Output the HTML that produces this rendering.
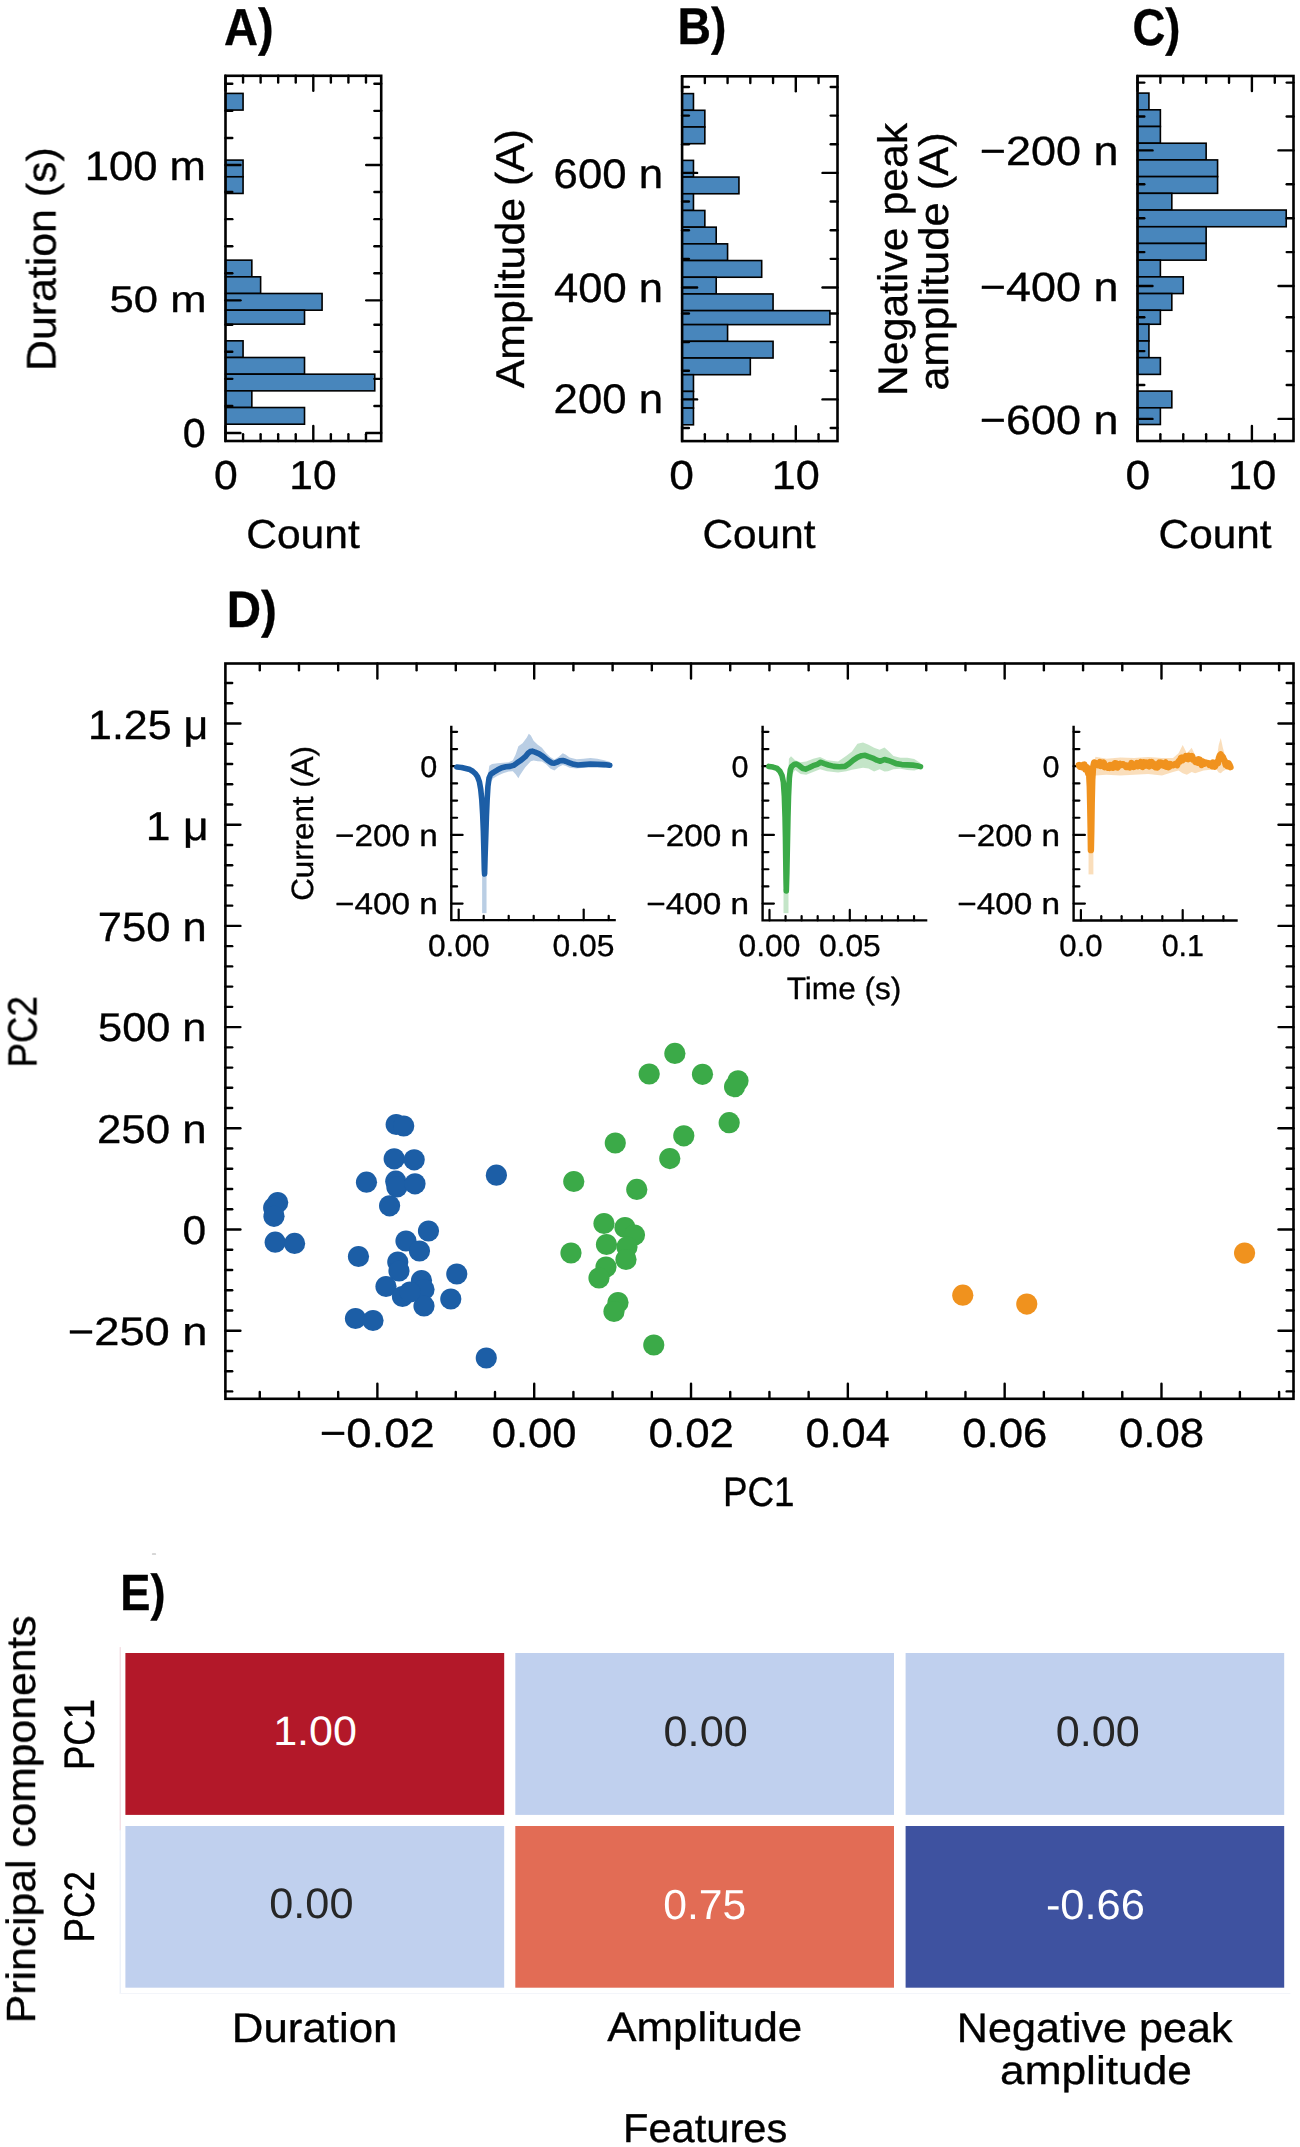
<!DOCTYPE html>
<html><head><meta charset="utf-8"><title>Figure</title>
<style>html,body{margin:0;padding:0;background:#fff;} body{width:1300px;height:2147px;overflow:hidden;font-family:"Liberation Sans", sans-serif;} svg{display:block;} text{-webkit-font-smoothing:antialiased;} .g{opacity:0.999;}</style>
</head><body>
<svg width="1300" height="2147" viewBox="0 0 1300 2147" font-family="&quot;Liberation Sans&quot;, sans-serif" text-rendering="geometricPrecision">
<rect width="1300" height="2147" fill="#fff"/>
<g class="g"><rect x="225.5" y="93.4" width="17.56" height="16.67" fill="#4886bc" stroke="#000" stroke-width="1.6"/>
<rect x="225.5" y="160.1" width="17.56" height="16.67" fill="#4886bc" stroke="#000" stroke-width="1.6"/>
<rect x="225.5" y="176.78" width="17.56" height="16.68" fill="#4886bc" stroke="#000" stroke-width="1.6"/>
<rect x="225.5" y="260.15" width="26.34" height="16.68" fill="#4886bc" stroke="#000" stroke-width="1.6"/>
<rect x="225.5" y="276.83" width="35.12" height="16.67" fill="#4886bc" stroke="#000" stroke-width="1.6"/>
<rect x="225.5" y="293.5" width="96.58" height="16.68" fill="#4886bc" stroke="#000" stroke-width="1.6"/>
<rect x="225.5" y="310.18" width="79.02" height="13.98" fill="#4886bc" stroke="#000" stroke-width="1.6"/>
<rect x="225.5" y="340.82" width="17.56" height="16.68" fill="#4886bc" stroke="#000" stroke-width="1.6"/>
<rect x="225.5" y="357.5" width="79.02" height="16.67" fill="#4886bc" stroke="#000" stroke-width="1.6"/>
<rect x="225.5" y="374.18" width="149.26" height="16.68" fill="#4886bc" stroke="#000" stroke-width="1.6"/>
<rect x="225.5" y="390.85" width="26.34" height="16.67" fill="#4886bc" stroke="#000" stroke-width="1.6"/>
<rect x="225.5" y="407.53" width="79.02" height="16.67" fill="#4886bc" stroke="#000" stroke-width="1.6"/>
<line x1="225.5" y1="433" x2="240.5" y2="433" stroke="#000" stroke-width="2.4" stroke-linecap="round"/>
<line x1="381.2" y1="433" x2="366.2" y2="433" stroke="#000" stroke-width="2.4" stroke-linecap="round"/>
<line x1="225.5" y1="300.35" x2="240.5" y2="300.35" stroke="#000" stroke-width="2.4" stroke-linecap="round"/>
<line x1="381.2" y1="300.35" x2="366.2" y2="300.35" stroke="#000" stroke-width="2.4" stroke-linecap="round"/>
<line x1="225.5" y1="165" x2="240.5" y2="165" stroke="#000" stroke-width="2.4" stroke-linecap="round"/>
<line x1="381.2" y1="165" x2="366.2" y2="165" stroke="#000" stroke-width="2.4" stroke-linecap="round"/>
<line x1="225.5" y1="405.93" x2="232.3" y2="405.93" stroke="#000" stroke-width="2.4" stroke-linecap="round"/>
<line x1="381.2" y1="405.93" x2="374.4" y2="405.93" stroke="#000" stroke-width="2.4" stroke-linecap="round"/>
<line x1="225.5" y1="378.86" x2="232.3" y2="378.86" stroke="#000" stroke-width="2.4" stroke-linecap="round"/>
<line x1="381.2" y1="378.86" x2="374.4" y2="378.86" stroke="#000" stroke-width="2.4" stroke-linecap="round"/>
<line x1="225.5" y1="351.79" x2="232.3" y2="351.79" stroke="#000" stroke-width="2.4" stroke-linecap="round"/>
<line x1="381.2" y1="351.79" x2="374.4" y2="351.79" stroke="#000" stroke-width="2.4" stroke-linecap="round"/>
<line x1="225.5" y1="324.72" x2="232.3" y2="324.72" stroke="#000" stroke-width="2.4" stroke-linecap="round"/>
<line x1="381.2" y1="324.72" x2="374.4" y2="324.72" stroke="#000" stroke-width="2.4" stroke-linecap="round"/>
<line x1="225.5" y1="273.28" x2="232.3" y2="273.28" stroke="#000" stroke-width="2.4" stroke-linecap="round"/>
<line x1="381.2" y1="273.28" x2="374.4" y2="273.28" stroke="#000" stroke-width="2.4" stroke-linecap="round"/>
<line x1="225.5" y1="246.21" x2="232.3" y2="246.21" stroke="#000" stroke-width="2.4" stroke-linecap="round"/>
<line x1="381.2" y1="246.21" x2="374.4" y2="246.21" stroke="#000" stroke-width="2.4" stroke-linecap="round"/>
<line x1="225.5" y1="219.14" x2="232.3" y2="219.14" stroke="#000" stroke-width="2.4" stroke-linecap="round"/>
<line x1="381.2" y1="219.14" x2="374.4" y2="219.14" stroke="#000" stroke-width="2.4" stroke-linecap="round"/>
<line x1="225.5" y1="192.07" x2="232.3" y2="192.07" stroke="#000" stroke-width="2.4" stroke-linecap="round"/>
<line x1="381.2" y1="192.07" x2="374.4" y2="192.07" stroke="#000" stroke-width="2.4" stroke-linecap="round"/>
<line x1="225.5" y1="137.93" x2="232.3" y2="137.93" stroke="#000" stroke-width="2.4" stroke-linecap="round"/>
<line x1="381.2" y1="137.93" x2="374.4" y2="137.93" stroke="#000" stroke-width="2.4" stroke-linecap="round"/>
<line x1="225.5" y1="110.86" x2="232.3" y2="110.86" stroke="#000" stroke-width="2.4" stroke-linecap="round"/>
<line x1="381.2" y1="110.86" x2="374.4" y2="110.86" stroke="#000" stroke-width="2.4" stroke-linecap="round"/>
<line x1="225.5" y1="83.79" x2="232.3" y2="83.79" stroke="#000" stroke-width="2.4" stroke-linecap="round"/>
<line x1="381.2" y1="83.79" x2="374.4" y2="83.79" stroke="#000" stroke-width="2.4" stroke-linecap="round"/>
<line x1="225.5" y1="441" x2="225.5" y2="426" stroke="#000" stroke-width="2.4" stroke-linecap="round"/>
<line x1="225.5" y1="75.8" x2="225.5" y2="90.8" stroke="#000" stroke-width="2.4" stroke-linecap="round"/>
<line x1="313.3" y1="441" x2="313.3" y2="426" stroke="#000" stroke-width="2.4" stroke-linecap="round"/>
<line x1="313.3" y1="75.8" x2="313.3" y2="90.8" stroke="#000" stroke-width="2.4" stroke-linecap="round"/>
<line x1="243.06" y1="441" x2="243.06" y2="434.2" stroke="#000" stroke-width="2.4" stroke-linecap="round"/>
<line x1="243.06" y1="75.8" x2="243.06" y2="82.6" stroke="#000" stroke-width="2.4" stroke-linecap="round"/>
<line x1="260.62" y1="441" x2="260.62" y2="434.2" stroke="#000" stroke-width="2.4" stroke-linecap="round"/>
<line x1="260.62" y1="75.8" x2="260.62" y2="82.6" stroke="#000" stroke-width="2.4" stroke-linecap="round"/>
<line x1="278.18" y1="441" x2="278.18" y2="434.2" stroke="#000" stroke-width="2.4" stroke-linecap="round"/>
<line x1="278.18" y1="75.8" x2="278.18" y2="82.6" stroke="#000" stroke-width="2.4" stroke-linecap="round"/>
<line x1="295.74" y1="441" x2="295.74" y2="434.2" stroke="#000" stroke-width="2.4" stroke-linecap="round"/>
<line x1="295.74" y1="75.8" x2="295.74" y2="82.6" stroke="#000" stroke-width="2.4" stroke-linecap="round"/>
<line x1="330.86" y1="441" x2="330.86" y2="434.2" stroke="#000" stroke-width="2.4" stroke-linecap="round"/>
<line x1="330.86" y1="75.8" x2="330.86" y2="82.6" stroke="#000" stroke-width="2.4" stroke-linecap="round"/>
<line x1="348.42" y1="441" x2="348.42" y2="434.2" stroke="#000" stroke-width="2.4" stroke-linecap="round"/>
<line x1="348.42" y1="75.8" x2="348.42" y2="82.6" stroke="#000" stroke-width="2.4" stroke-linecap="round"/>
<line x1="365.98" y1="441" x2="365.98" y2="434.2" stroke="#000" stroke-width="2.4" stroke-linecap="round"/>
<line x1="365.98" y1="75.8" x2="365.98" y2="82.6" stroke="#000" stroke-width="2.4" stroke-linecap="round"/>
<rect x="225.5" y="75.8" width="155.7" height="365.2" fill="none" stroke="#000" stroke-width="2.6" stroke-linejoin="miter"/>
<rect x="682.1" y="93.6" width="11.37" height="16.69" fill="#4886bc" stroke="#000" stroke-width="1.6"/>
<rect x="682.1" y="110.29" width="22.74" height="16.7" fill="#4886bc" stroke="#000" stroke-width="1.6"/>
<rect x="682.1" y="126.99" width="22.74" height="16.7" fill="#4886bc" stroke="#000" stroke-width="1.6"/>
<rect x="682.1" y="160.38" width="11.37" height="16.69" fill="#4886bc" stroke="#000" stroke-width="1.6"/>
<rect x="682.1" y="177.07" width="56.85" height="16.69" fill="#4886bc" stroke="#000" stroke-width="1.6"/>
<rect x="682.1" y="193.77" width="11.37" height="16.7" fill="#4886bc" stroke="#000" stroke-width="1.6"/>
<rect x="682.1" y="210.47" width="22.74" height="16.69" fill="#4886bc" stroke="#000" stroke-width="1.6"/>
<rect x="682.1" y="227.16" width="34.11" height="16.69" fill="#4886bc" stroke="#000" stroke-width="1.6"/>
<rect x="682.1" y="243.85" width="45.48" height="16.69" fill="#4886bc" stroke="#000" stroke-width="1.6"/>
<rect x="682.1" y="260.55" width="79.59" height="16.7" fill="#4886bc" stroke="#000" stroke-width="1.6"/>
<rect x="682.1" y="277.25" width="34.11" height="16.69" fill="#4886bc" stroke="#000" stroke-width="1.6"/>
<rect x="682.1" y="293.94" width="90.96" height="16.69" fill="#4886bc" stroke="#000" stroke-width="1.6"/>
<rect x="682.1" y="310.63" width="147.81" height="14" fill="#4886bc" stroke="#000" stroke-width="1.6"/>
<rect x="682.1" y="324.63" width="45.48" height="16.69" fill="#4886bc" stroke="#000" stroke-width="1.6"/>
<rect x="682.1" y="341.32" width="90.96" height="16.7" fill="#4886bc" stroke="#000" stroke-width="1.6"/>
<rect x="682.1" y="358.02" width="68.22" height="16.69" fill="#4886bc" stroke="#000" stroke-width="1.6"/>
<rect x="682.1" y="374.71" width="11.37" height="16.7" fill="#4886bc" stroke="#000" stroke-width="1.6"/>
<rect x="682.1" y="391.41" width="11.37" height="16.69" fill="#4886bc" stroke="#000" stroke-width="1.6"/>
<rect x="682.1" y="408.1" width="11.37" height="16.7" fill="#4886bc" stroke="#000" stroke-width="1.6"/>
<line x1="682.1" y1="399.4" x2="697.1" y2="399.4" stroke="#000" stroke-width="2.4" stroke-linecap="round"/>
<line x1="837.5" y1="399.4" x2="822.5" y2="399.4" stroke="#000" stroke-width="2.4" stroke-linecap="round"/>
<line x1="682.1" y1="287.5" x2="697.1" y2="287.5" stroke="#000" stroke-width="2.4" stroke-linecap="round"/>
<line x1="837.5" y1="287.5" x2="822.5" y2="287.5" stroke="#000" stroke-width="2.4" stroke-linecap="round"/>
<line x1="682.1" y1="172.9" x2="697.1" y2="172.9" stroke="#000" stroke-width="2.4" stroke-linecap="round"/>
<line x1="837.5" y1="172.9" x2="822.5" y2="172.9" stroke="#000" stroke-width="2.4" stroke-linecap="round"/>
<line x1="682.1" y1="428.05" x2="688.9" y2="428.05" stroke="#000" stroke-width="2.4" stroke-linecap="round"/>
<line x1="837.5" y1="428.05" x2="830.7" y2="428.05" stroke="#000" stroke-width="2.4" stroke-linecap="round"/>
<line x1="682.1" y1="370.75" x2="688.9" y2="370.75" stroke="#000" stroke-width="2.4" stroke-linecap="round"/>
<line x1="837.5" y1="370.75" x2="830.7" y2="370.75" stroke="#000" stroke-width="2.4" stroke-linecap="round"/>
<line x1="682.1" y1="342.1" x2="688.9" y2="342.1" stroke="#000" stroke-width="2.4" stroke-linecap="round"/>
<line x1="837.5" y1="342.1" x2="830.7" y2="342.1" stroke="#000" stroke-width="2.4" stroke-linecap="round"/>
<line x1="682.1" y1="313.45" x2="688.9" y2="313.45" stroke="#000" stroke-width="2.4" stroke-linecap="round"/>
<line x1="837.5" y1="313.45" x2="830.7" y2="313.45" stroke="#000" stroke-width="2.4" stroke-linecap="round"/>
<line x1="682.1" y1="258.85" x2="688.9" y2="258.85" stroke="#000" stroke-width="2.4" stroke-linecap="round"/>
<line x1="837.5" y1="258.85" x2="830.7" y2="258.85" stroke="#000" stroke-width="2.4" stroke-linecap="round"/>
<line x1="682.1" y1="230.2" x2="688.9" y2="230.2" stroke="#000" stroke-width="2.4" stroke-linecap="round"/>
<line x1="837.5" y1="230.2" x2="830.7" y2="230.2" stroke="#000" stroke-width="2.4" stroke-linecap="round"/>
<line x1="682.1" y1="201.55" x2="688.9" y2="201.55" stroke="#000" stroke-width="2.4" stroke-linecap="round"/>
<line x1="837.5" y1="201.55" x2="830.7" y2="201.55" stroke="#000" stroke-width="2.4" stroke-linecap="round"/>
<line x1="682.1" y1="144.25" x2="688.9" y2="144.25" stroke="#000" stroke-width="2.4" stroke-linecap="round"/>
<line x1="837.5" y1="144.25" x2="830.7" y2="144.25" stroke="#000" stroke-width="2.4" stroke-linecap="round"/>
<line x1="682.1" y1="115.6" x2="688.9" y2="115.6" stroke="#000" stroke-width="2.4" stroke-linecap="round"/>
<line x1="837.5" y1="115.6" x2="830.7" y2="115.6" stroke="#000" stroke-width="2.4" stroke-linecap="round"/>
<line x1="682.1" y1="86.95" x2="688.9" y2="86.95" stroke="#000" stroke-width="2.4" stroke-linecap="round"/>
<line x1="837.5" y1="86.95" x2="830.7" y2="86.95" stroke="#000" stroke-width="2.4" stroke-linecap="round"/>
<line x1="682.1" y1="441.1" x2="682.1" y2="426.1" stroke="#000" stroke-width="2.4" stroke-linecap="round"/>
<line x1="682.1" y1="76.3" x2="682.1" y2="91.3" stroke="#000" stroke-width="2.4" stroke-linecap="round"/>
<line x1="795.8" y1="441.1" x2="795.8" y2="426.1" stroke="#000" stroke-width="2.4" stroke-linecap="round"/>
<line x1="795.8" y1="76.3" x2="795.8" y2="91.3" stroke="#000" stroke-width="2.4" stroke-linecap="round"/>
<line x1="704.84" y1="441.1" x2="704.84" y2="434.3" stroke="#000" stroke-width="2.4" stroke-linecap="round"/>
<line x1="704.84" y1="76.3" x2="704.84" y2="83.1" stroke="#000" stroke-width="2.4" stroke-linecap="round"/>
<line x1="727.58" y1="441.1" x2="727.58" y2="434.3" stroke="#000" stroke-width="2.4" stroke-linecap="round"/>
<line x1="727.58" y1="76.3" x2="727.58" y2="83.1" stroke="#000" stroke-width="2.4" stroke-linecap="round"/>
<line x1="750.32" y1="441.1" x2="750.32" y2="434.3" stroke="#000" stroke-width="2.4" stroke-linecap="round"/>
<line x1="750.32" y1="76.3" x2="750.32" y2="83.1" stroke="#000" stroke-width="2.4" stroke-linecap="round"/>
<line x1="773.06" y1="441.1" x2="773.06" y2="434.3" stroke="#000" stroke-width="2.4" stroke-linecap="round"/>
<line x1="773.06" y1="76.3" x2="773.06" y2="83.1" stroke="#000" stroke-width="2.4" stroke-linecap="round"/>
<line x1="818.54" y1="441.1" x2="818.54" y2="434.3" stroke="#000" stroke-width="2.4" stroke-linecap="round"/>
<line x1="818.54" y1="76.3" x2="818.54" y2="83.1" stroke="#000" stroke-width="2.4" stroke-linecap="round"/>
<rect x="682.1" y="76.3" width="155.4" height="364.8" fill="none" stroke="#000" stroke-width="2.6" stroke-linejoin="miter"/>
<rect x="1137.5" y="93.1" width="11.44" height="16.7" fill="#4886bc" stroke="#000" stroke-width="1.6"/>
<rect x="1137.5" y="109.8" width="22.88" height="16.7" fill="#4886bc" stroke="#000" stroke-width="1.6"/>
<rect x="1137.5" y="126.51" width="22.88" height="16.71" fill="#4886bc" stroke="#000" stroke-width="1.6"/>
<rect x="1137.5" y="143.22" width="68.64" height="16.71" fill="#4886bc" stroke="#000" stroke-width="1.6"/>
<rect x="1137.5" y="159.92" width="80.08" height="16.7" fill="#4886bc" stroke="#000" stroke-width="1.6"/>
<rect x="1137.5" y="176.62" width="80.08" height="16.71" fill="#4886bc" stroke="#000" stroke-width="1.6"/>
<rect x="1137.5" y="193.33" width="34.32" height="16.71" fill="#4886bc" stroke="#000" stroke-width="1.6"/>
<rect x="1137.5" y="210.04" width="148.72" height="16.7" fill="#4886bc" stroke="#000" stroke-width="1.6"/>
<rect x="1137.5" y="226.74" width="68.64" height="16.71" fill="#4886bc" stroke="#000" stroke-width="1.6"/>
<rect x="1137.5" y="243.45" width="68.64" height="16.7" fill="#4886bc" stroke="#000" stroke-width="1.6"/>
<rect x="1137.5" y="260.15" width="22.88" height="16.71" fill="#4886bc" stroke="#000" stroke-width="1.6"/>
<rect x="1137.5" y="276.86" width="45.76" height="16.71" fill="#4886bc" stroke="#000" stroke-width="1.6"/>
<rect x="1137.5" y="293.56" width="34.32" height="16.7" fill="#4886bc" stroke="#000" stroke-width="1.6"/>
<rect x="1137.5" y="310.26" width="22.88" height="14.01" fill="#4886bc" stroke="#000" stroke-width="1.6"/>
<rect x="1137.5" y="324.27" width="11.44" height="16.7" fill="#4886bc" stroke="#000" stroke-width="1.6"/>
<rect x="1137.5" y="340.98" width="11.44" height="16.7" fill="#4886bc" stroke="#000" stroke-width="1.6"/>
<rect x="1137.5" y="357.68" width="22.88" height="16.71" fill="#4886bc" stroke="#000" stroke-width="1.6"/>
<rect x="1137.5" y="391.09" width="34.32" height="16.7" fill="#4886bc" stroke="#000" stroke-width="1.6"/>
<rect x="1137.5" y="407.8" width="22.88" height="16.71" fill="#4886bc" stroke="#000" stroke-width="1.6"/>
<line x1="1137.5" y1="150.4" x2="1152.5" y2="150.4" stroke="#000" stroke-width="2.4" stroke-linecap="round"/>
<line x1="1293.5" y1="150.4" x2="1278.5" y2="150.4" stroke="#000" stroke-width="2.4" stroke-linecap="round"/>
<line x1="1137.5" y1="286" x2="1152.5" y2="286" stroke="#000" stroke-width="2.4" stroke-linecap="round"/>
<line x1="1293.5" y1="286" x2="1278.5" y2="286" stroke="#000" stroke-width="2.4" stroke-linecap="round"/>
<line x1="1137.5" y1="418.9" x2="1152.5" y2="418.9" stroke="#000" stroke-width="2.4" stroke-linecap="round"/>
<line x1="1293.5" y1="418.9" x2="1278.5" y2="418.9" stroke="#000" stroke-width="2.4" stroke-linecap="round"/>
<line x1="1137.5" y1="385" x2="1144.3" y2="385" stroke="#000" stroke-width="2.4" stroke-linecap="round"/>
<line x1="1293.5" y1="385" x2="1286.7" y2="385" stroke="#000" stroke-width="2.4" stroke-linecap="round"/>
<line x1="1137.5" y1="351.1" x2="1144.3" y2="351.1" stroke="#000" stroke-width="2.4" stroke-linecap="round"/>
<line x1="1293.5" y1="351.1" x2="1286.7" y2="351.1" stroke="#000" stroke-width="2.4" stroke-linecap="round"/>
<line x1="1137.5" y1="317.2" x2="1144.3" y2="317.2" stroke="#000" stroke-width="2.4" stroke-linecap="round"/>
<line x1="1293.5" y1="317.2" x2="1286.7" y2="317.2" stroke="#000" stroke-width="2.4" stroke-linecap="round"/>
<line x1="1137.5" y1="252.1" x2="1144.3" y2="252.1" stroke="#000" stroke-width="2.4" stroke-linecap="round"/>
<line x1="1293.5" y1="252.1" x2="1286.7" y2="252.1" stroke="#000" stroke-width="2.4" stroke-linecap="round"/>
<line x1="1137.5" y1="218.2" x2="1144.3" y2="218.2" stroke="#000" stroke-width="2.4" stroke-linecap="round"/>
<line x1="1293.5" y1="218.2" x2="1286.7" y2="218.2" stroke="#000" stroke-width="2.4" stroke-linecap="round"/>
<line x1="1137.5" y1="184.3" x2="1144.3" y2="184.3" stroke="#000" stroke-width="2.4" stroke-linecap="round"/>
<line x1="1293.5" y1="184.3" x2="1286.7" y2="184.3" stroke="#000" stroke-width="2.4" stroke-linecap="round"/>
<line x1="1137.5" y1="116.5" x2="1144.3" y2="116.5" stroke="#000" stroke-width="2.4" stroke-linecap="round"/>
<line x1="1293.5" y1="116.5" x2="1286.7" y2="116.5" stroke="#000" stroke-width="2.4" stroke-linecap="round"/>
<line x1="1137.5" y1="82.6" x2="1144.3" y2="82.6" stroke="#000" stroke-width="2.4" stroke-linecap="round"/>
<line x1="1293.5" y1="82.6" x2="1286.7" y2="82.6" stroke="#000" stroke-width="2.4" stroke-linecap="round"/>
<line x1="1137.5" y1="441" x2="1137.5" y2="426" stroke="#000" stroke-width="2.4" stroke-linecap="round"/>
<line x1="1137.5" y1="76" x2="1137.5" y2="91" stroke="#000" stroke-width="2.4" stroke-linecap="round"/>
<line x1="1251.9" y1="441" x2="1251.9" y2="426" stroke="#000" stroke-width="2.4" stroke-linecap="round"/>
<line x1="1251.9" y1="76" x2="1251.9" y2="91" stroke="#000" stroke-width="2.4" stroke-linecap="round"/>
<line x1="1160.38" y1="441" x2="1160.38" y2="434.2" stroke="#000" stroke-width="2.4" stroke-linecap="round"/>
<line x1="1160.38" y1="76" x2="1160.38" y2="82.8" stroke="#000" stroke-width="2.4" stroke-linecap="round"/>
<line x1="1183.26" y1="441" x2="1183.26" y2="434.2" stroke="#000" stroke-width="2.4" stroke-linecap="round"/>
<line x1="1183.26" y1="76" x2="1183.26" y2="82.8" stroke="#000" stroke-width="2.4" stroke-linecap="round"/>
<line x1="1206.14" y1="441" x2="1206.14" y2="434.2" stroke="#000" stroke-width="2.4" stroke-linecap="round"/>
<line x1="1206.14" y1="76" x2="1206.14" y2="82.8" stroke="#000" stroke-width="2.4" stroke-linecap="round"/>
<line x1="1229.02" y1="441" x2="1229.02" y2="434.2" stroke="#000" stroke-width="2.4" stroke-linecap="round"/>
<line x1="1229.02" y1="76" x2="1229.02" y2="82.8" stroke="#000" stroke-width="2.4" stroke-linecap="round"/>
<line x1="1274.78" y1="441" x2="1274.78" y2="434.2" stroke="#000" stroke-width="2.4" stroke-linecap="round"/>
<line x1="1274.78" y1="76" x2="1274.78" y2="82.8" stroke="#000" stroke-width="2.4" stroke-linecap="round"/>
<rect x="1137.5" y="76" width="156" height="365" fill="none" stroke="#000" stroke-width="2.6" stroke-linejoin="miter"/>
<text transform="translate(223.98,45) scale(0.9040,1)" font-size="52.03" font-weight="bold" fill="#000" stroke="#000" stroke-width="0.35" stroke-linejoin="round">A)</text>
<text transform="translate(677.44,44.4) scale(0.8989,1)" font-size="51.60" font-weight="bold" fill="#000" stroke="#000" stroke-width="0.35" stroke-linejoin="round">B)</text>
<text transform="translate(1132.49,44.98) scale(0.8809,1)" font-size="51.69" font-weight="bold" fill="#000" stroke="#000" stroke-width="0.35" stroke-linejoin="round">C)</text>
<text transform="translate(84.69,179.59) scale(1.0643,1)" font-size="40.96" fill="#000" stroke="#000" stroke-width="0.35" stroke-linejoin="round">100 m</text>
<text transform="translate(109.56,311.83) scale(1.1776,1)" font-size="37.01" fill="#000" stroke="#000" stroke-width="0.35" stroke-linejoin="round">50 m</text>
<text transform="translate(182.85,447.1) scale(1.0202,1)" font-size="40.40" fill="#000" stroke="#000" stroke-width="0.35" stroke-linejoin="round">0</text>
<text transform="translate(55.5,370.91) rotate(-90) scale(1.0445,1)" font-size="40.99" fill="#000" stroke="#000" stroke-width="0.35" stroke-linejoin="round">Duration (s)</text>
<text transform="translate(553.61,187.59) scale(1.0574,1)" font-size="41.38" fill="#000" stroke="#000" stroke-width="0.35" stroke-linejoin="round">600 n</text>
<text transform="translate(554.04,302.29) scale(1.0568,1)" font-size="41.24" fill="#000" stroke="#000" stroke-width="0.35" stroke-linejoin="round">400 n</text>
<text transform="translate(553.61,413.39) scale(1.0574,1)" font-size="41.38" fill="#000" stroke="#000" stroke-width="0.35" stroke-linejoin="round">200 n</text>
<text transform="translate(524.3,388.29) rotate(-90) scale(1.0632,1)" font-size="40.26" fill="#000" stroke="#000" stroke-width="0.35" stroke-linejoin="round">Amplitude (A)</text>
<text transform="translate(979.75,164.59) scale(1.0975,1)" font-size="40.96" fill="#000" stroke="#000" stroke-width="0.35" stroke-linejoin="round">−200 n</text>
<text transform="translate(979.75,300.59) scale(1.0975,1)" font-size="40.96" fill="#000" stroke="#000" stroke-width="0.35" stroke-linejoin="round">−400 n</text>
<text transform="translate(979.75,433.59) scale(1.0975,1)" font-size="40.96" fill="#000" stroke="#000" stroke-width="0.35" stroke-linejoin="round">−600 n</text>
<text transform="translate(906.5,395.9) rotate(-90) scale(1.0347,1)" font-size="41.28" fill="#000" stroke="#000" stroke-width="0.35" stroke-linejoin="round">Negative peak</text>
<text transform="translate(948.4,390.83) rotate(-90) scale(1.0533,1)" font-size="41.28" fill="#000" stroke="#000" stroke-width="0.35" stroke-linejoin="round">amplitude (A)</text>
<text transform="translate(213.89,489) scale(1.0565,1)" font-size="40.40" fill="#000" stroke="#000" stroke-width="0.35" stroke-linejoin="round">0</text>
<text transform="translate(289.37,489) scale(1.0517,1)" font-size="40.40" fill="#000" stroke="#000" stroke-width="0.35" stroke-linejoin="round">10</text>
<text transform="translate(246.17,547.79) scale(1.0501,1)" font-size="40.54" fill="#000" stroke="#000" stroke-width="0.35" stroke-linejoin="round">Count</text>
<text transform="translate(669.33,489) scale(1.0979,1)" font-size="40.40" fill="#000" stroke="#000" stroke-width="0.35" stroke-linejoin="round">0</text>
<text transform="translate(771.82,489) scale(1.0691,1)" font-size="40.40" fill="#000" stroke="#000" stroke-width="0.35" stroke-linejoin="round">10</text>
<text transform="translate(702.48,547.79) scale(1.0444,1)" font-size="40.54" fill="#000" stroke="#000" stroke-width="0.35" stroke-linejoin="round">Count</text>
<text transform="translate(1125.53,489) scale(1.0979,1)" font-size="40.40" fill="#000" stroke="#000" stroke-width="0.35" stroke-linejoin="round">0</text>
<text transform="translate(1228.12,489) scale(1.0691,1)" font-size="40.40" fill="#000" stroke="#000" stroke-width="0.35" stroke-linejoin="round">10</text>
<text transform="translate(1158.58,547.79) scale(1.0444,1)" font-size="40.54" fill="#000" stroke="#000" stroke-width="0.35" stroke-linejoin="round">Count</text>
<g fill="#1c5ea6"><circle cx="396.2" cy="1124.5" r="10.6"/><circle cx="403.7" cy="1126" r="10.6"/><circle cx="394.2" cy="1158.8" r="10.6"/><circle cx="414.2" cy="1159.8" r="10.6"/><circle cx="366.5" cy="1182.2" r="10.6"/><circle cx="395.8" cy="1181.2" r="10.6"/><circle cx="396.9" cy="1186.9" r="10.6"/><circle cx="415" cy="1183.8" r="10.6"/><circle cx="389.6" cy="1205.8" r="10.6"/><circle cx="277.7" cy="1202.5" r="10.6"/><circle cx="273.7" cy="1207.7" r="10.6"/><circle cx="274" cy="1216.3" r="10.6"/><circle cx="275.2" cy="1242.2" r="10.6"/><circle cx="294.6" cy="1243.4" r="10.6"/><circle cx="496.4" cy="1175.2" r="10.6"/><circle cx="428.5" cy="1231" r="10.6"/><circle cx="406" cy="1241" r="10.6"/><circle cx="419.5" cy="1251" r="10.6"/><circle cx="358.5" cy="1256.5" r="10.6"/><circle cx="397.8" cy="1262" r="10.6"/><circle cx="399" cy="1271" r="10.6"/><circle cx="386" cy="1286.5" r="10.6"/><circle cx="421.5" cy="1280.5" r="10.6"/><circle cx="424" cy="1289.5" r="10.6"/><circle cx="402.5" cy="1296.5" r="10.6"/><circle cx="424" cy="1306" r="10.6"/><circle cx="456.8" cy="1274" r="10.6"/><circle cx="450.8" cy="1299" r="10.6"/><circle cx="355.5" cy="1318.5" r="10.6"/><circle cx="373" cy="1320.5" r="10.6"/><circle cx="410" cy="1292" r="10.6"/><circle cx="486.3" cy="1358" r="10.6"/></g>
<g fill="#3baa48"><circle cx="674.9" cy="1053.4" r="10.6"/><circle cx="649.2" cy="1074" r="10.6"/><circle cx="702.5" cy="1074.3" r="10.6"/><circle cx="738" cy="1080.8" r="10.6"/><circle cx="734.6" cy="1086.7" r="10.6"/><circle cx="729.2" cy="1122.7" r="10.6"/><circle cx="683.8" cy="1135.8" r="10.6"/><circle cx="615.3" cy="1143" r="10.6"/><circle cx="669.8" cy="1158.6" r="10.6"/><circle cx="573.8" cy="1181.5" r="10.6"/><circle cx="636.8" cy="1189.4" r="10.6"/><circle cx="604" cy="1223.5" r="10.6"/><circle cx="625" cy="1227.5" r="10.6"/><circle cx="634.5" cy="1235" r="10.6"/><circle cx="606.5" cy="1244.5" r="10.6"/><circle cx="627" cy="1247" r="10.6"/><circle cx="626" cy="1259.5" r="10.6"/><circle cx="571" cy="1253" r="10.6"/><circle cx="606" cy="1267" r="10.6"/><circle cx="599" cy="1278" r="10.6"/><circle cx="618" cy="1302.5" r="10.6"/><circle cx="614" cy="1311.5" r="10.6"/><circle cx="653.8" cy="1345" r="10.6"/></g>
<g fill="#f0921e"><circle cx="962.8" cy="1295.2" r="10.6"/><circle cx="1026.8" cy="1304.1" r="10.6"/><circle cx="1244.6" cy="1253.1" r="10.6"/></g>
<line x1="377.38" y1="1398.8" x2="377.38" y2="1383.8" stroke="#000" stroke-width="2.4" stroke-linecap="round"/>
<line x1="377.38" y1="663.5" x2="377.38" y2="678.5" stroke="#000" stroke-width="2.4" stroke-linecap="round"/>
<line x1="534.2" y1="1398.8" x2="534.2" y2="1383.8" stroke="#000" stroke-width="2.4" stroke-linecap="round"/>
<line x1="534.2" y1="663.5" x2="534.2" y2="678.5" stroke="#000" stroke-width="2.4" stroke-linecap="round"/>
<line x1="691.02" y1="1398.8" x2="691.02" y2="1383.8" stroke="#000" stroke-width="2.4" stroke-linecap="round"/>
<line x1="691.02" y1="663.5" x2="691.02" y2="678.5" stroke="#000" stroke-width="2.4" stroke-linecap="round"/>
<line x1="847.84" y1="1398.8" x2="847.84" y2="1383.8" stroke="#000" stroke-width="2.4" stroke-linecap="round"/>
<line x1="847.84" y1="663.5" x2="847.84" y2="678.5" stroke="#000" stroke-width="2.4" stroke-linecap="round"/>
<line x1="1004.66" y1="1398.8" x2="1004.66" y2="1383.8" stroke="#000" stroke-width="2.4" stroke-linecap="round"/>
<line x1="1004.66" y1="663.5" x2="1004.66" y2="678.5" stroke="#000" stroke-width="2.4" stroke-linecap="round"/>
<line x1="1161.48" y1="1398.8" x2="1161.48" y2="1383.8" stroke="#000" stroke-width="2.4" stroke-linecap="round"/>
<line x1="1161.48" y1="663.5" x2="1161.48" y2="678.5" stroke="#000" stroke-width="2.4" stroke-linecap="round"/>
<line x1="259.77" y1="1398.8" x2="259.77" y2="1392" stroke="#000" stroke-width="2.4" stroke-linecap="round"/>
<line x1="259.77" y1="663.5" x2="259.77" y2="670.3" stroke="#000" stroke-width="2.4" stroke-linecap="round"/>
<line x1="298.97" y1="1398.8" x2="298.97" y2="1392" stroke="#000" stroke-width="2.4" stroke-linecap="round"/>
<line x1="298.97" y1="663.5" x2="298.97" y2="670.3" stroke="#000" stroke-width="2.4" stroke-linecap="round"/>
<line x1="338.18" y1="1398.8" x2="338.18" y2="1392" stroke="#000" stroke-width="2.4" stroke-linecap="round"/>
<line x1="338.18" y1="663.5" x2="338.18" y2="670.3" stroke="#000" stroke-width="2.4" stroke-linecap="round"/>
<line x1="416.59" y1="1398.8" x2="416.59" y2="1392" stroke="#000" stroke-width="2.4" stroke-linecap="round"/>
<line x1="416.59" y1="663.5" x2="416.59" y2="670.3" stroke="#000" stroke-width="2.4" stroke-linecap="round"/>
<line x1="455.79" y1="1398.8" x2="455.79" y2="1392" stroke="#000" stroke-width="2.4" stroke-linecap="round"/>
<line x1="455.79" y1="663.5" x2="455.79" y2="670.3" stroke="#000" stroke-width="2.4" stroke-linecap="round"/>
<line x1="495" y1="1398.8" x2="495" y2="1392" stroke="#000" stroke-width="2.4" stroke-linecap="round"/>
<line x1="495" y1="663.5" x2="495" y2="670.3" stroke="#000" stroke-width="2.4" stroke-linecap="round"/>
<line x1="573.41" y1="1398.8" x2="573.41" y2="1392" stroke="#000" stroke-width="2.4" stroke-linecap="round"/>
<line x1="573.41" y1="663.5" x2="573.41" y2="670.3" stroke="#000" stroke-width="2.4" stroke-linecap="round"/>
<line x1="612.61" y1="1398.8" x2="612.61" y2="1392" stroke="#000" stroke-width="2.4" stroke-linecap="round"/>
<line x1="612.61" y1="663.5" x2="612.61" y2="670.3" stroke="#000" stroke-width="2.4" stroke-linecap="round"/>
<line x1="651.82" y1="1398.8" x2="651.82" y2="1392" stroke="#000" stroke-width="2.4" stroke-linecap="round"/>
<line x1="651.82" y1="663.5" x2="651.82" y2="670.3" stroke="#000" stroke-width="2.4" stroke-linecap="round"/>
<line x1="730.23" y1="1398.8" x2="730.23" y2="1392" stroke="#000" stroke-width="2.4" stroke-linecap="round"/>
<line x1="730.23" y1="663.5" x2="730.23" y2="670.3" stroke="#000" stroke-width="2.4" stroke-linecap="round"/>
<line x1="769.43" y1="1398.8" x2="769.43" y2="1392" stroke="#000" stroke-width="2.4" stroke-linecap="round"/>
<line x1="769.43" y1="663.5" x2="769.43" y2="670.3" stroke="#000" stroke-width="2.4" stroke-linecap="round"/>
<line x1="808.63" y1="1398.8" x2="808.63" y2="1392" stroke="#000" stroke-width="2.4" stroke-linecap="round"/>
<line x1="808.63" y1="663.5" x2="808.63" y2="670.3" stroke="#000" stroke-width="2.4" stroke-linecap="round"/>
<line x1="887.05" y1="1398.8" x2="887.05" y2="1392" stroke="#000" stroke-width="2.4" stroke-linecap="round"/>
<line x1="887.05" y1="663.5" x2="887.05" y2="670.3" stroke="#000" stroke-width="2.4" stroke-linecap="round"/>
<line x1="926.25" y1="1398.8" x2="926.25" y2="1392" stroke="#000" stroke-width="2.4" stroke-linecap="round"/>
<line x1="926.25" y1="663.5" x2="926.25" y2="670.3" stroke="#000" stroke-width="2.4" stroke-linecap="round"/>
<line x1="965.46" y1="1398.8" x2="965.46" y2="1392" stroke="#000" stroke-width="2.4" stroke-linecap="round"/>
<line x1="965.46" y1="663.5" x2="965.46" y2="670.3" stroke="#000" stroke-width="2.4" stroke-linecap="round"/>
<line x1="1043.87" y1="1398.8" x2="1043.87" y2="1392" stroke="#000" stroke-width="2.4" stroke-linecap="round"/>
<line x1="1043.87" y1="663.5" x2="1043.87" y2="670.3" stroke="#000" stroke-width="2.4" stroke-linecap="round"/>
<line x1="1083.07" y1="1398.8" x2="1083.07" y2="1392" stroke="#000" stroke-width="2.4" stroke-linecap="round"/>
<line x1="1083.07" y1="663.5" x2="1083.07" y2="670.3" stroke="#000" stroke-width="2.4" stroke-linecap="round"/>
<line x1="1122.28" y1="1398.8" x2="1122.28" y2="1392" stroke="#000" stroke-width="2.4" stroke-linecap="round"/>
<line x1="1122.28" y1="663.5" x2="1122.28" y2="670.3" stroke="#000" stroke-width="2.4" stroke-linecap="round"/>
<line x1="1200.68" y1="1398.8" x2="1200.68" y2="1392" stroke="#000" stroke-width="2.4" stroke-linecap="round"/>
<line x1="1200.68" y1="663.5" x2="1200.68" y2="670.3" stroke="#000" stroke-width="2.4" stroke-linecap="round"/>
<line x1="1239.89" y1="1398.8" x2="1239.89" y2="1392" stroke="#000" stroke-width="2.4" stroke-linecap="round"/>
<line x1="1239.89" y1="663.5" x2="1239.89" y2="670.3" stroke="#000" stroke-width="2.4" stroke-linecap="round"/>
<line x1="1279.1" y1="1398.8" x2="1279.1" y2="1392" stroke="#000" stroke-width="2.4" stroke-linecap="round"/>
<line x1="1279.1" y1="663.5" x2="1279.1" y2="670.3" stroke="#000" stroke-width="2.4" stroke-linecap="round"/>
<line x1="225.4" y1="1330.7" x2="240.4" y2="1330.7" stroke="#000" stroke-width="2.4" stroke-linecap="round"/>
<line x1="1293.5" y1="1330.7" x2="1278.5" y2="1330.7" stroke="#000" stroke-width="2.4" stroke-linecap="round"/>
<line x1="225.4" y1="1229.5" x2="240.4" y2="1229.5" stroke="#000" stroke-width="2.4" stroke-linecap="round"/>
<line x1="1293.5" y1="1229.5" x2="1278.5" y2="1229.5" stroke="#000" stroke-width="2.4" stroke-linecap="round"/>
<line x1="225.4" y1="1128.3" x2="240.4" y2="1128.3" stroke="#000" stroke-width="2.4" stroke-linecap="round"/>
<line x1="1293.5" y1="1128.3" x2="1278.5" y2="1128.3" stroke="#000" stroke-width="2.4" stroke-linecap="round"/>
<line x1="225.4" y1="1027.1" x2="240.4" y2="1027.1" stroke="#000" stroke-width="2.4" stroke-linecap="round"/>
<line x1="1293.5" y1="1027.1" x2="1278.5" y2="1027.1" stroke="#000" stroke-width="2.4" stroke-linecap="round"/>
<line x1="225.4" y1="925.9" x2="240.4" y2="925.9" stroke="#000" stroke-width="2.4" stroke-linecap="round"/>
<line x1="1293.5" y1="925.9" x2="1278.5" y2="925.9" stroke="#000" stroke-width="2.4" stroke-linecap="round"/>
<line x1="225.4" y1="824.7" x2="240.4" y2="824.7" stroke="#000" stroke-width="2.4" stroke-linecap="round"/>
<line x1="1293.5" y1="824.7" x2="1278.5" y2="824.7" stroke="#000" stroke-width="2.4" stroke-linecap="round"/>
<line x1="225.4" y1="723.5" x2="240.4" y2="723.5" stroke="#000" stroke-width="2.4" stroke-linecap="round"/>
<line x1="1293.5" y1="723.5" x2="1278.5" y2="723.5" stroke="#000" stroke-width="2.4" stroke-linecap="round"/>
<line x1="225.4" y1="1391.42" x2="232.2" y2="1391.42" stroke="#000" stroke-width="2.4" stroke-linecap="round"/>
<line x1="1293.5" y1="1391.42" x2="1286.7" y2="1391.42" stroke="#000" stroke-width="2.4" stroke-linecap="round"/>
<line x1="225.4" y1="1371.18" x2="232.2" y2="1371.18" stroke="#000" stroke-width="2.4" stroke-linecap="round"/>
<line x1="1293.5" y1="1371.18" x2="1286.7" y2="1371.18" stroke="#000" stroke-width="2.4" stroke-linecap="round"/>
<line x1="225.4" y1="1350.94" x2="232.2" y2="1350.94" stroke="#000" stroke-width="2.4" stroke-linecap="round"/>
<line x1="1293.5" y1="1350.94" x2="1286.7" y2="1350.94" stroke="#000" stroke-width="2.4" stroke-linecap="round"/>
<line x1="225.4" y1="1310.46" x2="232.2" y2="1310.46" stroke="#000" stroke-width="2.4" stroke-linecap="round"/>
<line x1="1293.5" y1="1310.46" x2="1286.7" y2="1310.46" stroke="#000" stroke-width="2.4" stroke-linecap="round"/>
<line x1="225.4" y1="1290.22" x2="232.2" y2="1290.22" stroke="#000" stroke-width="2.4" stroke-linecap="round"/>
<line x1="1293.5" y1="1290.22" x2="1286.7" y2="1290.22" stroke="#000" stroke-width="2.4" stroke-linecap="round"/>
<line x1="225.4" y1="1269.98" x2="232.2" y2="1269.98" stroke="#000" stroke-width="2.4" stroke-linecap="round"/>
<line x1="1293.5" y1="1269.98" x2="1286.7" y2="1269.98" stroke="#000" stroke-width="2.4" stroke-linecap="round"/>
<line x1="225.4" y1="1249.74" x2="232.2" y2="1249.74" stroke="#000" stroke-width="2.4" stroke-linecap="round"/>
<line x1="1293.5" y1="1249.74" x2="1286.7" y2="1249.74" stroke="#000" stroke-width="2.4" stroke-linecap="round"/>
<line x1="225.4" y1="1209.26" x2="232.2" y2="1209.26" stroke="#000" stroke-width="2.4" stroke-linecap="round"/>
<line x1="1293.5" y1="1209.26" x2="1286.7" y2="1209.26" stroke="#000" stroke-width="2.4" stroke-linecap="round"/>
<line x1="225.4" y1="1189.02" x2="232.2" y2="1189.02" stroke="#000" stroke-width="2.4" stroke-linecap="round"/>
<line x1="1293.5" y1="1189.02" x2="1286.7" y2="1189.02" stroke="#000" stroke-width="2.4" stroke-linecap="round"/>
<line x1="225.4" y1="1168.78" x2="232.2" y2="1168.78" stroke="#000" stroke-width="2.4" stroke-linecap="round"/>
<line x1="1293.5" y1="1168.78" x2="1286.7" y2="1168.78" stroke="#000" stroke-width="2.4" stroke-linecap="round"/>
<line x1="225.4" y1="1148.54" x2="232.2" y2="1148.54" stroke="#000" stroke-width="2.4" stroke-linecap="round"/>
<line x1="1293.5" y1="1148.54" x2="1286.7" y2="1148.54" stroke="#000" stroke-width="2.4" stroke-linecap="round"/>
<line x1="225.4" y1="1108.06" x2="232.2" y2="1108.06" stroke="#000" stroke-width="2.4" stroke-linecap="round"/>
<line x1="1293.5" y1="1108.06" x2="1286.7" y2="1108.06" stroke="#000" stroke-width="2.4" stroke-linecap="round"/>
<line x1="225.4" y1="1087.82" x2="232.2" y2="1087.82" stroke="#000" stroke-width="2.4" stroke-linecap="round"/>
<line x1="1293.5" y1="1087.82" x2="1286.7" y2="1087.82" stroke="#000" stroke-width="2.4" stroke-linecap="round"/>
<line x1="225.4" y1="1067.58" x2="232.2" y2="1067.58" stroke="#000" stroke-width="2.4" stroke-linecap="round"/>
<line x1="1293.5" y1="1067.58" x2="1286.7" y2="1067.58" stroke="#000" stroke-width="2.4" stroke-linecap="round"/>
<line x1="225.4" y1="1047.34" x2="232.2" y2="1047.34" stroke="#000" stroke-width="2.4" stroke-linecap="round"/>
<line x1="1293.5" y1="1047.34" x2="1286.7" y2="1047.34" stroke="#000" stroke-width="2.4" stroke-linecap="round"/>
<line x1="225.4" y1="1006.86" x2="232.2" y2="1006.86" stroke="#000" stroke-width="2.4" stroke-linecap="round"/>
<line x1="1293.5" y1="1006.86" x2="1286.7" y2="1006.86" stroke="#000" stroke-width="2.4" stroke-linecap="round"/>
<line x1="225.4" y1="986.62" x2="232.2" y2="986.62" stroke="#000" stroke-width="2.4" stroke-linecap="round"/>
<line x1="1293.5" y1="986.62" x2="1286.7" y2="986.62" stroke="#000" stroke-width="2.4" stroke-linecap="round"/>
<line x1="225.4" y1="966.38" x2="232.2" y2="966.38" stroke="#000" stroke-width="2.4" stroke-linecap="round"/>
<line x1="1293.5" y1="966.38" x2="1286.7" y2="966.38" stroke="#000" stroke-width="2.4" stroke-linecap="round"/>
<line x1="225.4" y1="946.14" x2="232.2" y2="946.14" stroke="#000" stroke-width="2.4" stroke-linecap="round"/>
<line x1="1293.5" y1="946.14" x2="1286.7" y2="946.14" stroke="#000" stroke-width="2.4" stroke-linecap="round"/>
<line x1="225.4" y1="905.66" x2="232.2" y2="905.66" stroke="#000" stroke-width="2.4" stroke-linecap="round"/>
<line x1="1293.5" y1="905.66" x2="1286.7" y2="905.66" stroke="#000" stroke-width="2.4" stroke-linecap="round"/>
<line x1="225.4" y1="885.42" x2="232.2" y2="885.42" stroke="#000" stroke-width="2.4" stroke-linecap="round"/>
<line x1="1293.5" y1="885.42" x2="1286.7" y2="885.42" stroke="#000" stroke-width="2.4" stroke-linecap="round"/>
<line x1="225.4" y1="865.18" x2="232.2" y2="865.18" stroke="#000" stroke-width="2.4" stroke-linecap="round"/>
<line x1="1293.5" y1="865.18" x2="1286.7" y2="865.18" stroke="#000" stroke-width="2.4" stroke-linecap="round"/>
<line x1="225.4" y1="844.94" x2="232.2" y2="844.94" stroke="#000" stroke-width="2.4" stroke-linecap="round"/>
<line x1="1293.5" y1="844.94" x2="1286.7" y2="844.94" stroke="#000" stroke-width="2.4" stroke-linecap="round"/>
<line x1="225.4" y1="804.46" x2="232.2" y2="804.46" stroke="#000" stroke-width="2.4" stroke-linecap="round"/>
<line x1="1293.5" y1="804.46" x2="1286.7" y2="804.46" stroke="#000" stroke-width="2.4" stroke-linecap="round"/>
<line x1="225.4" y1="784.22" x2="232.2" y2="784.22" stroke="#000" stroke-width="2.4" stroke-linecap="round"/>
<line x1="1293.5" y1="784.22" x2="1286.7" y2="784.22" stroke="#000" stroke-width="2.4" stroke-linecap="round"/>
<line x1="225.4" y1="763.98" x2="232.2" y2="763.98" stroke="#000" stroke-width="2.4" stroke-linecap="round"/>
<line x1="1293.5" y1="763.98" x2="1286.7" y2="763.98" stroke="#000" stroke-width="2.4" stroke-linecap="round"/>
<line x1="225.4" y1="743.74" x2="232.2" y2="743.74" stroke="#000" stroke-width="2.4" stroke-linecap="round"/>
<line x1="1293.5" y1="743.74" x2="1286.7" y2="743.74" stroke="#000" stroke-width="2.4" stroke-linecap="round"/>
<line x1="225.4" y1="703.26" x2="232.2" y2="703.26" stroke="#000" stroke-width="2.4" stroke-linecap="round"/>
<line x1="1293.5" y1="703.26" x2="1286.7" y2="703.26" stroke="#000" stroke-width="2.4" stroke-linecap="round"/>
<line x1="225.4" y1="683.02" x2="232.2" y2="683.02" stroke="#000" stroke-width="2.4" stroke-linecap="round"/>
<line x1="1293.5" y1="683.02" x2="1286.7" y2="683.02" stroke="#000" stroke-width="2.4" stroke-linecap="round"/>
<rect x="225.4" y="663.5" width="1068.1" height="735.3" fill="none" stroke="#000" stroke-width="2.6"/>
<text transform="translate(226.66,627.1) scale(0.9268,1)" font-size="51.31" font-weight="bold" fill="#000" stroke="#000" stroke-width="0.35" stroke-linejoin="round">D)</text>
<text transform="translate(88.03,738.69) scale(1.0493,1)" font-size="40.96" fill="#000" stroke="#000" stroke-width="0.35" stroke-linejoin="round">1.25 μ</text>
<text transform="translate(145.82,839.7) scale(1.1039,1)" font-size="40.26" fill="#000" stroke="#000" stroke-width="0.35" stroke-linejoin="round">1 μ</text>
<text transform="translate(97.84,941.19) scale(1.0621,1)" font-size="40.96" fill="#000" stroke="#000" stroke-width="0.35" stroke-linejoin="round">750 n</text>
<text transform="translate(98.07,1041.3) scale(1.0791,1)" font-size="40.11" fill="#000" stroke="#000" stroke-width="0.35" stroke-linejoin="round">500 n</text>
<text transform="translate(97.01,1142.7) scale(1.0881,1)" font-size="40.25" fill="#000" stroke="#000" stroke-width="0.35" stroke-linejoin="round">250 n</text>
<text transform="translate(182.6,1244.2) scale(1.0587,1)" font-size="40.11" fill="#000" stroke="#000" stroke-width="0.35" stroke-linejoin="round">0</text>
<text transform="translate(67.74,1344.5) scale(1.1452,1)" font-size="39.55" fill="#000" stroke="#000" stroke-width="0.35" stroke-linejoin="round">−250 n</text>
<text transform="translate(36.49,1067.62) rotate(-90) scale(0.9021,1)" font-size="40.82" fill="#000" stroke="#000" stroke-width="0.35" stroke-linejoin="round">PC2</text>
<text transform="translate(319.73,1446.59) scale(1.1169,1)" font-size="40.68" fill="#000" stroke="#000" stroke-width="0.35" stroke-linejoin="round">−0.02</text>
<text transform="translate(491.76,1446.59) scale(1.0712,1)" font-size="40.68" fill="#000" stroke="#000" stroke-width="0.35" stroke-linejoin="round">0.00</text>
<text transform="translate(648.57,1446.59) scale(1.0782,1)" font-size="40.68" fill="#000" stroke="#000" stroke-width="0.35" stroke-linejoin="round">0.02</text>
<text transform="translate(805.4,1446.59) scale(1.0667,1)" font-size="40.68" fill="#000" stroke="#000" stroke-width="0.35" stroke-linejoin="round">0.04</text>
<text transform="translate(962.21,1446.59) scale(1.0747,1)" font-size="40.68" fill="#000" stroke="#000" stroke-width="0.35" stroke-linejoin="round">0.06</text>
<text transform="translate(1119.03,1446.59) scale(1.0747,1)" font-size="40.68" fill="#000" stroke="#000" stroke-width="0.35" stroke-linejoin="round">0.08</text>
<text transform="translate(722.88,1505.79) scale(0.8963,1)" font-size="41.10" fill="#000" stroke="#000" stroke-width="0.35" stroke-linejoin="round">PC1</text>
<line x1="451.3" y1="766.2" x2="462.6" y2="766.2" stroke="#000" stroke-width="2.2" stroke-linecap="round"/>
<line x1="451.3" y1="834.9" x2="462.6" y2="834.9" stroke="#000" stroke-width="2.2" stroke-linecap="round"/>
<line x1="451.3" y1="903.6" x2="462.6" y2="903.6" stroke="#000" stroke-width="2.2" stroke-linecap="round"/>
<line x1="451.3" y1="731.85" x2="457.1" y2="731.85" stroke="#000" stroke-width="2.2" stroke-linecap="round"/>
<line x1="451.3" y1="749.03" x2="457.1" y2="749.03" stroke="#000" stroke-width="2.2" stroke-linecap="round"/>
<line x1="451.3" y1="783.38" x2="457.1" y2="783.38" stroke="#000" stroke-width="2.2" stroke-linecap="round"/>
<line x1="451.3" y1="800.55" x2="457.1" y2="800.55" stroke="#000" stroke-width="2.2" stroke-linecap="round"/>
<line x1="451.3" y1="817.73" x2="457.1" y2="817.73" stroke="#000" stroke-width="2.2" stroke-linecap="round"/>
<line x1="451.3" y1="852.08" x2="457.1" y2="852.08" stroke="#000" stroke-width="2.2" stroke-linecap="round"/>
<line x1="451.3" y1="869.25" x2="457.1" y2="869.25" stroke="#000" stroke-width="2.2" stroke-linecap="round"/>
<line x1="451.3" y1="886.43" x2="457.1" y2="886.43" stroke="#000" stroke-width="2.2" stroke-linecap="round"/>
<line x1="458.7" y1="920.1" x2="458.7" y2="909.6" stroke="#000" stroke-width="2.2" stroke-linecap="round"/>
<line x1="583.7" y1="920.1" x2="583.7" y2="909.6" stroke="#000" stroke-width="2.2" stroke-linecap="round"/>
<line x1="483.7" y1="920.1" x2="483.7" y2="915.8" stroke="#000" stroke-width="2.2" stroke-linecap="round"/>
<line x1="508.7" y1="920.1" x2="508.7" y2="915.8" stroke="#000" stroke-width="2.2" stroke-linecap="round"/>
<line x1="533.7" y1="920.1" x2="533.7" y2="915.8" stroke="#000" stroke-width="2.2" stroke-linecap="round"/>
<line x1="558.7" y1="920.1" x2="558.7" y2="915.8" stroke="#000" stroke-width="2.2" stroke-linecap="round"/>
<line x1="608.7" y1="920.1" x2="608.7" y2="915.8" stroke="#000" stroke-width="2.2" stroke-linecap="round"/>
<polyline points="451.3,725.7 451.3,920.1 615.8,920.1" fill="none" stroke="#000" stroke-width="2.4" stroke-linejoin="miter"/>
<line x1="762.6" y1="766.2" x2="773.9" y2="766.2" stroke="#000" stroke-width="2.2" stroke-linecap="round"/>
<line x1="762.6" y1="834.9" x2="773.9" y2="834.9" stroke="#000" stroke-width="2.2" stroke-linecap="round"/>
<line x1="762.6" y1="903.6" x2="773.9" y2="903.6" stroke="#000" stroke-width="2.2" stroke-linecap="round"/>
<line x1="762.6" y1="731.85" x2="768.4" y2="731.85" stroke="#000" stroke-width="2.2" stroke-linecap="round"/>
<line x1="762.6" y1="749.03" x2="768.4" y2="749.03" stroke="#000" stroke-width="2.2" stroke-linecap="round"/>
<line x1="762.6" y1="783.38" x2="768.4" y2="783.38" stroke="#000" stroke-width="2.2" stroke-linecap="round"/>
<line x1="762.6" y1="800.55" x2="768.4" y2="800.55" stroke="#000" stroke-width="2.2" stroke-linecap="round"/>
<line x1="762.6" y1="817.73" x2="768.4" y2="817.73" stroke="#000" stroke-width="2.2" stroke-linecap="round"/>
<line x1="762.6" y1="852.08" x2="768.4" y2="852.08" stroke="#000" stroke-width="2.2" stroke-linecap="round"/>
<line x1="762.6" y1="869.25" x2="768.4" y2="869.25" stroke="#000" stroke-width="2.2" stroke-linecap="round"/>
<line x1="762.6" y1="886.43" x2="768.4" y2="886.43" stroke="#000" stroke-width="2.2" stroke-linecap="round"/>
<line x1="769.5" y1="920.4" x2="769.5" y2="909.9" stroke="#000" stroke-width="2.2" stroke-linecap="round"/>
<line x1="849.8" y1="920.4" x2="849.8" y2="909.9" stroke="#000" stroke-width="2.2" stroke-linecap="round"/>
<line x1="785.56" y1="920.4" x2="785.56" y2="916.1" stroke="#000" stroke-width="2.2" stroke-linecap="round"/>
<line x1="801.62" y1="920.4" x2="801.62" y2="916.1" stroke="#000" stroke-width="2.2" stroke-linecap="round"/>
<line x1="817.68" y1="920.4" x2="817.68" y2="916.1" stroke="#000" stroke-width="2.2" stroke-linecap="round"/>
<line x1="833.74" y1="920.4" x2="833.74" y2="916.1" stroke="#000" stroke-width="2.2" stroke-linecap="round"/>
<line x1="865.86" y1="920.4" x2="865.86" y2="916.1" stroke="#000" stroke-width="2.2" stroke-linecap="round"/>
<line x1="881.92" y1="920.4" x2="881.92" y2="916.1" stroke="#000" stroke-width="2.2" stroke-linecap="round"/>
<line x1="897.98" y1="920.4" x2="897.98" y2="916.1" stroke="#000" stroke-width="2.2" stroke-linecap="round"/>
<line x1="914.04" y1="920.4" x2="914.04" y2="916.1" stroke="#000" stroke-width="2.2" stroke-linecap="round"/>
<polyline points="762.6,725.7 762.6,920.4 927.3,920.4" fill="none" stroke="#000" stroke-width="2.4" stroke-linejoin="miter"/>
<line x1="1073.6" y1="766.2" x2="1084.9" y2="766.2" stroke="#000" stroke-width="2.2" stroke-linecap="round"/>
<line x1="1073.6" y1="834.9" x2="1084.9" y2="834.9" stroke="#000" stroke-width="2.2" stroke-linecap="round"/>
<line x1="1073.6" y1="903.6" x2="1084.9" y2="903.6" stroke="#000" stroke-width="2.2" stroke-linecap="round"/>
<line x1="1073.6" y1="731.85" x2="1079.4" y2="731.85" stroke="#000" stroke-width="2.2" stroke-linecap="round"/>
<line x1="1073.6" y1="749.03" x2="1079.4" y2="749.03" stroke="#000" stroke-width="2.2" stroke-linecap="round"/>
<line x1="1073.6" y1="783.38" x2="1079.4" y2="783.38" stroke="#000" stroke-width="2.2" stroke-linecap="round"/>
<line x1="1073.6" y1="800.55" x2="1079.4" y2="800.55" stroke="#000" stroke-width="2.2" stroke-linecap="round"/>
<line x1="1073.6" y1="817.73" x2="1079.4" y2="817.73" stroke="#000" stroke-width="2.2" stroke-linecap="round"/>
<line x1="1073.6" y1="852.08" x2="1079.4" y2="852.08" stroke="#000" stroke-width="2.2" stroke-linecap="round"/>
<line x1="1073.6" y1="869.25" x2="1079.4" y2="869.25" stroke="#000" stroke-width="2.2" stroke-linecap="round"/>
<line x1="1073.6" y1="886.43" x2="1079.4" y2="886.43" stroke="#000" stroke-width="2.2" stroke-linecap="round"/>
<line x1="1080.9" y1="920.5" x2="1080.9" y2="910" stroke="#000" stroke-width="2.2" stroke-linecap="round"/>
<line x1="1182.7" y1="920.5" x2="1182.7" y2="910" stroke="#000" stroke-width="2.2" stroke-linecap="round"/>
<line x1="1101.26" y1="920.5" x2="1101.26" y2="916.2" stroke="#000" stroke-width="2.2" stroke-linecap="round"/>
<line x1="1121.62" y1="920.5" x2="1121.62" y2="916.2" stroke="#000" stroke-width="2.2" stroke-linecap="round"/>
<line x1="1141.98" y1="920.5" x2="1141.98" y2="916.2" stroke="#000" stroke-width="2.2" stroke-linecap="round"/>
<line x1="1162.34" y1="920.5" x2="1162.34" y2="916.2" stroke="#000" stroke-width="2.2" stroke-linecap="round"/>
<line x1="1203.06" y1="920.5" x2="1203.06" y2="916.2" stroke="#000" stroke-width="2.2" stroke-linecap="round"/>
<line x1="1223.42" y1="920.5" x2="1223.42" y2="916.2" stroke="#000" stroke-width="2.2" stroke-linecap="round"/>
<polyline points="1073.6,725.7 1073.6,920.5 1237.7,920.5" fill="none" stroke="#000" stroke-width="2.4" stroke-linejoin="miter"/>
<polygon points="486.54,797.54 487.92,775.39 489.31,765.69 492.08,764.03 497.62,763.2 503.16,762.65 508.69,762.37 512.85,760.16 515.62,754.62 518.39,746.31 522.54,743.26 526.69,737.72 528.77,733.85 530.85,735.51 533.62,740.77 537.77,744.65 541.93,747.69 546.08,752.95 550.23,757.11 554.39,759.46 558.54,757.11 562.7,753.23 565.47,754.62 569.62,757.39 576.54,759.19 583.47,758.77 590.39,758.08 597.31,758.77 604.24,760.16 609.77,761.82 609.77,767.77 604.24,767.77 597.31,767.77 590.39,767.77 583.47,767.77 576.54,768.46 569.62,767.77 565.47,765.69 562.7,765 558.54,767.08 554.39,770.54 550.23,768.46 546.08,764.31 541.93,761.54 537.77,761.26 533.62,760.57 530.85,761.26 528.08,764.31 525.31,767.36 522.54,771.23 519.77,775.39 518.39,778.16 515.62,774.28 512.85,771.23 508.69,771.51 503.16,773.31 497.62,775.66 493.46,778.16 490.69,782.31 489.31,785.08 487.92,792 486.54,830.77" fill="#1c5ea6" fill-opacity="0.3" stroke="none"/>
<rect x="482.11" y="872.31" width="4.43" height="40.85" fill="#1c5ea6" fill-opacity="0.3"/>
<polyline points="456.77,767.08 461.62,767.49 465.77,768.46 469.92,769.57 472.69,771.23 475.46,773.72 477.54,776.77 479.34,781.62 480.72,789.23 481.83,800.31 482.66,814.16 483.36,830.77 483.91,851.54 484.32,869.54 484.6,873.97 485.02,858.47 485.71,837.7 486.4,816.93 487.09,800.31 487.92,786.46 489.03,778.16 490.69,774.28 493.46,772.34 497.62,769.85 501.77,767.77 505.92,766.8 510.08,766.39 513.54,765.42 517,762.92 521.16,760.16 525.31,756.69 528.08,753.23 530.16,751.57 532.23,751.15 535,752.12 539.16,753.92 543.31,756.69 547.46,760.16 551.62,762.92 554.39,763.2 557.16,762.23 559.93,760.85 562.7,760.43 565.47,761.26 569.62,762.92 573.77,764.31 577.93,765 583.47,764.59 590.39,764.03 597.31,764.31 604.24,764.59 609.77,765.28" fill="none" stroke="#1c5ea6" stroke-width="5.6" stroke-linejoin="round" stroke-linecap="round"/>
<polygon points="788.23,775.39 788.92,758.77 791,756.28 795.16,760.16 800.69,762.23 806.23,761.54 813.16,758.77 820.08,757.11 827,760.16 838.08,761.54 846.39,755.72 851.93,751.57 857.46,743.82 863,742.43 868.54,744.65 874.08,747.69 879.62,749.77 884.47,747.42 887.93,750.46 893.47,756 900.39,757.66 907.31,757.66 914.24,759.05 920.47,762.92 920.47,768.74 914.24,770.54 907.31,770.12 900.39,768.74 893.47,769.16 887.93,771.23 884.47,771.51 879.62,769.16 874.08,771.51 868.54,768.46 863,767.77 857.46,768.74 851.93,769.85 846.39,771.23 838.08,772.62 827,771.23 820.08,769.16 813.16,771.92 806.23,774.69 800.69,774 795.16,770.12 791,775.39 788.92,782.31 788.23,816.93" fill="#3baa48" fill-opacity="0.3" stroke="none"/>
<rect x="783.52" y="888.93" width="4.98" height="24.23" fill="#3baa48" fill-opacity="0.3"/>
<polyline points="768.85,766.39 773,767.08 777.15,768.46 779.92,771.23 782,775.39 783.39,782.31 784.35,796.16 785.05,816.93 785.46,837.7 785.74,858.47 786.02,879.24 786.29,891.01 786.85,872.31 787.4,844.62 787.95,816.93 788.51,796.16 789.34,778.16 790.31,769.85 791.69,766.39 794.46,764.31 796.54,764.03 799.31,765.69 802.77,768.46 805.54,769.16 809,767.77 813.16,765.69 817.31,764.31 820.77,762.23 824.23,763.62 828.39,765 833.93,766.39 839.46,766.8 845,766.39 849.16,763.62 853.31,760.16 857.46,757.39 861.62,755.72 865.08,755.31 868.54,756.69 872.7,758.08 876.85,760.16 880.31,761.26 884.47,759.46 887.93,760.43 892.08,761.82 896.24,763.62 901.77,764.59 907.31,764.86 912.85,765.14 917,765.69 920.47,766.66" fill="none" stroke="#3baa48" stroke-width="5.6" stroke-linejoin="round" stroke-linecap="round"/>
<polygon points="1093.39,765.69 1095.46,756.69 1106.54,758.77 1120.39,757.39 1134.23,758.08 1148.08,757.11 1161.93,758.08 1173,758.08 1178.54,753.23 1182.7,744.92 1186.85,753.23 1191.7,747.69 1195.16,755.31 1203.47,759.46 1210.39,760.85 1216.62,759.46 1218.7,744.92 1220.77,738 1222.85,747.69 1226.31,760.16 1230.47,764.31 1230.47,768.46 1226.31,769.16 1222.85,771.23 1220.77,773.31 1218.7,772.62 1216.62,769.85 1210.39,769.85 1203.47,770.54 1195.16,773.31 1191.7,771.92 1186.85,774.69 1182.7,773.31 1178.54,770.54 1173,771.92 1161.93,775.39 1148.08,774 1134.23,774.69 1120.39,775.39 1106.54,774.69 1095.46,775.39 1093.39,778.16" fill="#f0921e" fill-opacity="0.3" stroke="none"/>
<rect x="1088.54" y="848.77" width="4.85" height="25.62" fill="#f0921e" fill-opacity="0.3"/>
<polyline points="1078.85,765.02 1079.77,766.73 1080.69,765.94 1081.62,767.27 1082.54,767.5 1083.46,764.7 1084.39,764.55 1085.31,769.39 1086.23,766.93 1087.15,767.36 1088.12,773.6 1089.09,773.15 1089.79,786.83 1090.2,805.85 1090.62,828 1090.89,850.16 1091.31,830.77 1091.72,803.08 1092.28,779.42 1093.11,767.11 1094.15,762.49 1095.19,762.93 1096.2,764.75 1097.22,763.55 1098.23,765.29 1099.15,765.11 1100.08,762.13 1101,765.93 1101.92,765.24 1102.85,763.92 1103.77,762.7 1104.69,767.23 1105.62,765.37 1106.54,766.83 1107.46,767.62 1108.39,766.71 1109.31,767.74 1110.23,764.96 1111.16,767.03 1112.08,765.13 1113,767.64 1113.92,767.29 1114.85,763.19 1115.77,763.34 1116.69,763.71 1117.62,767.56 1118.54,764.76 1119.46,765.71 1120.39,763.97 1121.31,765.01 1122.23,764.35 1123.16,764.14 1124.08,765.33 1125,765.3 1125.92,766.94 1126.85,765.75 1127.77,767.01 1128.69,766.61 1129.62,767.28 1130.54,765.59 1131.46,762.92 1132.39,766.52 1133.31,767.03 1134.23,766.69 1135.16,764.93 1136.08,765.66 1137,763.03 1137.93,766.24 1138.85,764.88 1139.77,763.36 1140.69,762.19 1141.62,766.28 1142.54,766.97 1143.46,762.26 1144.39,765.95 1145.31,763.9 1146.23,762.53 1147.16,763.26 1148.08,765.71 1149,766.29 1149.93,762.03 1150.85,765.04 1151.77,762.13 1152.7,765.68 1153.62,763.71 1154.54,766.61 1155.46,767.18 1156.39,764.75 1157.31,767.36 1158.23,763.83 1159.16,762.66 1160.08,765.43 1161,762.52 1161.93,763.43 1162.85,764.49 1163.77,765.51 1164.7,763.11 1165.62,762.48 1166.54,766.74 1167.46,763.83 1168.39,767.14 1169.31,766.79 1170.23,764.05 1171.16,764.45 1172.08,764.72 1173,765.33 1174.04,764.67 1175.08,764.06 1176.12,763.96 1177.16,765.22 1178.08,762.08 1179,760.81 1179.93,761.44 1180.85,758.05 1181.77,757.51 1182.7,760.15 1183.73,758.12 1184.77,758.61 1185.81,756.16 1186.85,758.61 1187.89,759.12 1188.93,755.86 1189.97,758.61 1191,758.35 1192.04,756.17 1193.08,759.92 1194.12,759.88 1195.16,761.78 1196.08,760.31 1197,762.39 1197.93,762.78 1198.85,759.29 1199.77,759.72 1200.7,763.15 1201.62,764.87 1202.54,761.4 1203.47,762.7 1204.45,763.64 1205.44,762.46 1206.43,762.93 1207.42,762.9 1208.41,763.43 1209.4,764.85 1210.39,763.55 1211.31,764.09 1212.24,766.28 1213.16,762.54 1214.08,765.5 1215,766.5 1215.93,764.43 1216.97,762.04 1218,763.12 1218.93,757.87 1219.85,755.3 1220.77,754.28 1221.81,757.86 1222.85,756.98 1223.77,759.41 1224.7,760.77 1225.62,764.66 1226.59,763.3 1227.56,766.16 1228.53,763.28 1229.5,764.84 1230.47,767.17" fill="none" stroke="#f0921e" stroke-width="6.4" stroke-linejoin="round" stroke-linecap="round"/>
<text transform="translate(420.18,776.9) scale(1.0201,1)" font-size="29.94" fill="#000" stroke="#000" stroke-width="0.35" stroke-linejoin="round">0</text>
<text transform="translate(334.93,845.69) scale(1.0879,1)" font-size="30.65" fill="#000" stroke="#000" stroke-width="0.35" stroke-linejoin="round">−200 n</text>
<text transform="translate(334.93,914.1) scale(1.1084,1)" font-size="30.08" fill="#000" stroke="#000" stroke-width="0.35" stroke-linejoin="round">−400 n</text>
<text transform="translate(731.48,776.9) scale(1.0201,1)" font-size="29.94" fill="#000" stroke="#000" stroke-width="0.35" stroke-linejoin="round">0</text>
<text transform="translate(646.23,845.69) scale(1.0879,1)" font-size="30.65" fill="#000" stroke="#000" stroke-width="0.35" stroke-linejoin="round">−200 n</text>
<text transform="translate(646.23,914.1) scale(1.1084,1)" font-size="30.08" fill="#000" stroke="#000" stroke-width="0.35" stroke-linejoin="round">−400 n</text>
<text transform="translate(1042.48,776.9) scale(1.0201,1)" font-size="29.94" fill="#000" stroke="#000" stroke-width="0.35" stroke-linejoin="round">0</text>
<text transform="translate(957.23,845.69) scale(1.0879,1)" font-size="30.65" fill="#000" stroke="#000" stroke-width="0.35" stroke-linejoin="round">−200 n</text>
<text transform="translate(957.23,914.1) scale(1.1084,1)" font-size="30.08" fill="#000" stroke="#000" stroke-width="0.35" stroke-linejoin="round">−400 n</text>
<text transform="translate(427.93,956.2) scale(1.0454,1)" font-size="30.37" fill="#000" stroke="#000" stroke-width="0.35" stroke-linejoin="round">0.00</text>
<text transform="translate(552.53,956.2) scale(1.0476,1)" font-size="30.37" fill="#000" stroke="#000" stroke-width="0.35" stroke-linejoin="round">0.05</text>
<text transform="translate(738.58,956.2) scale(1.0454,1)" font-size="30.37" fill="#000" stroke="#000" stroke-width="0.35" stroke-linejoin="round">0.00</text>
<text transform="translate(818.88,956.2) scale(1.0476,1)" font-size="30.37" fill="#000" stroke="#000" stroke-width="0.35" stroke-linejoin="round">0.05</text>
<text transform="translate(1059.2,956.2) scale(1.0266,1)" font-size="30.37" fill="#000" stroke="#000" stroke-width="0.35" stroke-linejoin="round">0.0</text>
<text transform="translate(1161.68,956.2) scale(1.0016,1)" font-size="30.37" fill="#000" stroke="#000" stroke-width="0.35" stroke-linejoin="round">0.1</text>
<text transform="translate(312.59,900.87) rotate(-90) scale(1.0176,1)" font-size="30.79" fill="#000" stroke="#000" stroke-width="0.35" stroke-linejoin="round">Current (A)</text>
<text transform="translate(786.7,999.2) scale(1.0208,1)" font-size="30.96" fill="#000" stroke="#000" stroke-width="0.35" stroke-linejoin="round">Time (s)</text>
<line x1="120.2" y1="1647.5" x2="120.2" y2="1830" stroke="#efd3da" stroke-width="1.0" stroke-linecap="round"/>
<line x1="120.2" y1="1830" x2="120.2" y2="1993.5" stroke="#e6ecf7" stroke-width="1.0" stroke-linecap="round"/>
<line x1="120.2" y1="1993.5" x2="1290" y2="1993.5" stroke="#f3f5fa" stroke-width="1.0" stroke-linecap="round"/>
<line x1="152.5" y1="1554" x2="155.5" y2="1554" stroke="#b0b0b0" stroke-width="1.2" stroke-linecap="round"/>
<rect x="125.4" y="1653" width="378.8" height="161.9" fill="#b31829"/>
<rect x="515.3" y="1653" width="378.7" height="161.9" fill="#c0d0ee"/>
<rect x="905.6" y="1653" width="378.6" height="161.9" fill="#c0d0ee"/>
<rect x="125.4" y="1826" width="378.8" height="161.7" fill="#c0d0ee"/>
<rect x="515.3" y="1826" width="378.7" height="161.7" fill="#e26c55"/>
<rect x="905.6" y="1826" width="378.6" height="161.7" fill="#3e52a0"/>
<text transform="translate(273.13,1745.29) scale(1.0478,1)" font-size="41.10" fill="#fff">1.00</text>
<text transform="translate(663.57,1745.87) scale(1.0174,1)" font-size="42.51" fill="#262626">0.00</text>
<text transform="translate(1055.77,1745.87) scale(1.0162,1)" font-size="42.51" fill="#262626">0.00</text>
<text transform="translate(269.27,1917.67) scale(1.0141,1)" font-size="42.66" fill="#262626">0.00</text>
<text transform="translate(663.29,1918.78) scale(1.0167,1)" font-size="41.95" fill="#fff">0.75</text>
<text transform="translate(1045.89,1918.58) scale(1.0399,1)" font-size="41.81" fill="#fff">-0.66</text>
<text transform="translate(120.21,1609.5) scale(0.8897,1)" font-size="50.87" font-weight="bold" fill="#000" stroke="#000" stroke-width="0.35" stroke-linejoin="round">E)</text>
<text transform="translate(231.81,2041.7) scale(1.0613,1)" font-size="41.28" fill="#000" stroke="#000" stroke-width="0.35" stroke-linejoin="round">Duration</text>
<text transform="translate(607.21,2041.3) scale(1.0701,1)" font-size="40.99" fill="#000" stroke="#000" stroke-width="0.35" stroke-linejoin="round">Amplitude</text>
<text transform="translate(956.86,2041.5) scale(1.0451,1)" font-size="41.28" fill="#000" stroke="#000" stroke-width="0.35" stroke-linejoin="round">Negative peak</text>
<text transform="translate(1000.04,2083.5) scale(1.1088,1)" font-size="39.92" fill="#000" stroke="#000" stroke-width="0.35" stroke-linejoin="round">amplitude</text>
<text transform="translate(622.99,2142) scale(1.0305,1)" font-size="40.41" fill="#000" stroke="#000" stroke-width="0.35" stroke-linejoin="round">Features</text>
<text transform="translate(93.87,1770.1) rotate(-90) scale(0.8544,1)" font-size="42.80" fill="#000" stroke="#000" stroke-width="0.35" stroke-linejoin="round">PC1</text>
<text transform="translate(93.87,1942.4) rotate(-90) scale(0.8553,1)" font-size="42.80" fill="#000" stroke="#000" stroke-width="0.35" stroke-linejoin="round">PC2</text>
<text transform="translate(35,2023.2) rotate(-90) scale(1.0482,1)" font-size="40.70" fill="#000" stroke="#000" stroke-width="0.35" stroke-linejoin="round">Principal components</text></g>
</svg>
</body></html>
